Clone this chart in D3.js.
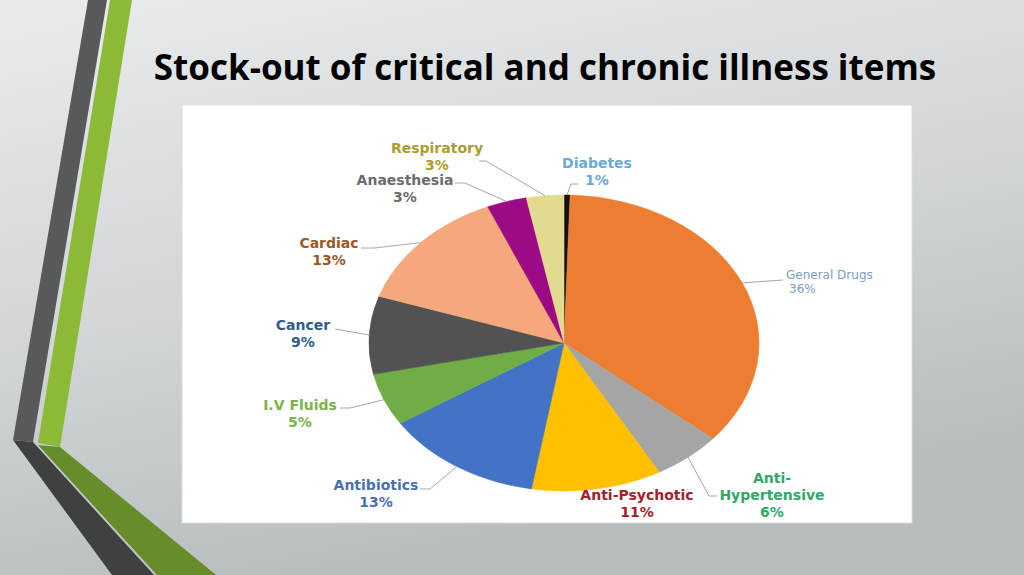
<!DOCTYPE html>
<html>
<head>
<meta charset="utf-8">
<script src="https://cdn.jsdelivr.net/npm/d3@7"></script>
<style>
  body { margin: 0; }
  svg { display: block; }
</style>
</head>
<body>
<script>
// slice data, clockwise from 12 o'clock (shares)
var categories = ["Diabetes", "General Drugs", "Anti-Hypertensive", "Anti-Psychotic",
  "Antibiotics", "I.V Fluids", "Cancer", "Cardiac", "Anaesthesia", "Respiratory"];
var shares = [0.5, 35.7, 5.7, 10.8, 13.2, 5.75, 8.5, 13.5, 3.3, 3.1];
var pctLabels = ["1%", "36%", "6%", "11%", "13%", "5%", "9%", "13%", "3%", "3%"];
// how the category names are broken over lines in the labels
var nameLines = [["Diabetes"], ["General Drugs"], ["Anti-", "Hypertensive"], ["Anti-Psychotic"],
  ["Antibiotics"], ["I.V Fluids"], ["Cancer"], ["Cardiac"], ["Anaesthesia"], ["Respiratory"]];

var sliceColors = ["#121212", "#ed7d31", "#a5a5a5", "#ffc000", "#4472c4",
  "#70ad47", "#525252", "#f4a87c", "#9c0a86", "#e2db8f"];
var labelColors = ["#6ea7d5", "#7a9dc2", "#2fa868", "#a3202c", "#4a6fb0",
  "#7ab24c", "#2f5c8c", "#9a5728", "#6b6b6b", "#ad9c2c"];

var w = 1024, h = 575;
var cx = 564, cy = 343, ry = 148, rx = 195;

// label layout: text centre x, first line y, anchor, leader start points
var layout = [
  {x: 597, y: 163, anchor: "middle", lead: [[578, 184], [571, 184]]},
  {x: 786, y: 275, anchor: "start", lead: [[783, 280]], small: true},
  {x: 772, y: 478, anchor: "middle", lead: [[717, 496], [709, 496]]},
  {x: 637, y: 495, anchor: "middle", lead: []},
  {x: 376, y: 485, anchor: "middle", lead: [[420, 489], [430, 489]]},
  {x: 300, y: 405, anchor: "middle", lead: [[340, 408], [350, 408]]},
  {x: 303, y: 325, anchor: "middle", lead: [[335, 329]]},
  {x: 329, y: 243, anchor: "middle", lead: [[361, 248], [374, 248]]},
  {x: 405, y: 180, anchor: "middle", lead: [[455, 183], [465, 183]]},
  {x: 437, y: 148, anchor: "middle", lead: [[479, 161], [486, 161]]}
];

var svg = d3.select("body").append("svg")
  .attr("width", w)
  .attr("height", h);

var defs = svg.append("defs");
var bg = defs.append("linearGradient")
  .attr("id", "bg")
  .attr("x1", 0).attr("y1", 0).attr("x2", 0.35).attr("y2", 1);
bg.append("stop").attr("offset", "0%").attr("stop-color", "#e9ebec");
bg.append("stop").attr("offset", "55%").attr("stop-color", "#d1d5d7");
bg.append("stop").attr("offset", "100%").attr("stop-color", "#b7bcbf");

svg.append("rect")
  .attr("width", w).attr("height", h)
  .attr("fill", "url(#bg)");

// decorative stripes on the left of the slide
var stripes = [
  {pts: [[88, 0], [107, 0], [33, 442], [13, 440]], fill: "#58595b"},
  {pts: [[110, 0], [132, 0], [60, 447], [38, 443]], fill: "#8cba37"},
  {pts: [[13, 440], [33, 442], [154, 575], [112, 575]], fill: "#3f4141"},
  {pts: [[38, 445], [60, 447], [216, 575], [157, 575]], fill: "#678c2a"}
];
svg.selectAll("polygon.stripe")
  .data(stripes)
  .enter()
  .append("polygon")
  .attr("class", "stripe")
  .attr("points", function(d) { return d.pts.join(" "); })
  .attr("fill", function(d) { return d.fill; });

svg.append("text")
  .attr("x", 545)
  .attr("y", 80)
  .attr("text-anchor", "middle")
  .attr("font-family", "'Open Sans', sans-serif")
  .attr("font-weight", "bold")
  .attr("font-size", 35)
  .attr("fill", "#000")
  .text("Stock-out of critical and chronic illness items");

// white chart panel
svg.append("rect")
  .attr("x", 182).attr("y", 105)
  .attr("width", 730).attr("height", 418)
  .attr("fill", "#fff")
  .attr("stroke", "#d9dcdd")
  .attr("stroke-width", 1);

var pie = d3.pie().sort(null).value(function(d) { return d; });
var arcs = pie(shares);
var arc = d3.arc().innerRadius(0).outerRadius(ry);

// the pie in the picture is stretched sideways, so scale the group
var pieG = svg.append("g")
  .attr("transform", "translate(" + cx + "," + cy + ") scale(" + (rx / ry) + ",1)");

pieG.selectAll("path")
  .data(arcs)
  .enter()
  .append("path")
  .attr("d", arc)
  .attr("fill", function(d, i) { return sliceColors[i]; })
  .attr("stroke", function(d, i) { return sliceColors[i]; })
  .attr("stroke-width", 0.5);

// point on the rim at the middle of each slice
function rimPoint(d) {
  var a = (d.startAngle + d.endAngle) / 2;
  return [cx + rx * Math.sin(a), cy - ry * Math.cos(a)];
}

var line = d3.line();
svg.selectAll("path.leader")
  .data(arcs.filter(function(d, i) { return layout[i].lead.length > 0; }))
  .enter()
  .append("path")
  .attr("class", "leader")
  .attr("d", function(d) {
    return line(layout[d.index].lead.concat([rimPoint(d)]));
  })
  .attr("fill", "none")
  .attr("stroke", "#a6a6a6")
  .attr("stroke-width", 1);

var labels = svg.selectAll("text.lbl")
  .data(arcs)
  .enter()
  .append("text")
  .attr("class", "lbl")
  .attr("text-anchor", function(d, i) { return layout[i].anchor; })
  .attr("font-family", "'DejaVu Sans', Verdana, sans-serif")
  .attr("font-weight", function(d, i) { return layout[i].small ? "normal" : "bold"; })
  .attr("font-size", function(d, i) { return layout[i].small ? 12 : 14; })
  .attr("fill", function(d, i) { return labelColors[i]; });

labels.each(function(d, i) {
  var t = d3.select(this);
  var L = layout[i];
  var step = L.small ? 14 : 17;
  var rows = nameLines[i].concat([pctLabels[i]]);
  rows.forEach(function(r, k) {
    t.append("tspan")
      .attr("x", L.small && k > 0 ? L.x + 3 : L.x)
      .attr("y", L.y + k * step)
      .attr("dy", "0.35em")
      .text(r);
  });
});
</script>
</body>
</html>
